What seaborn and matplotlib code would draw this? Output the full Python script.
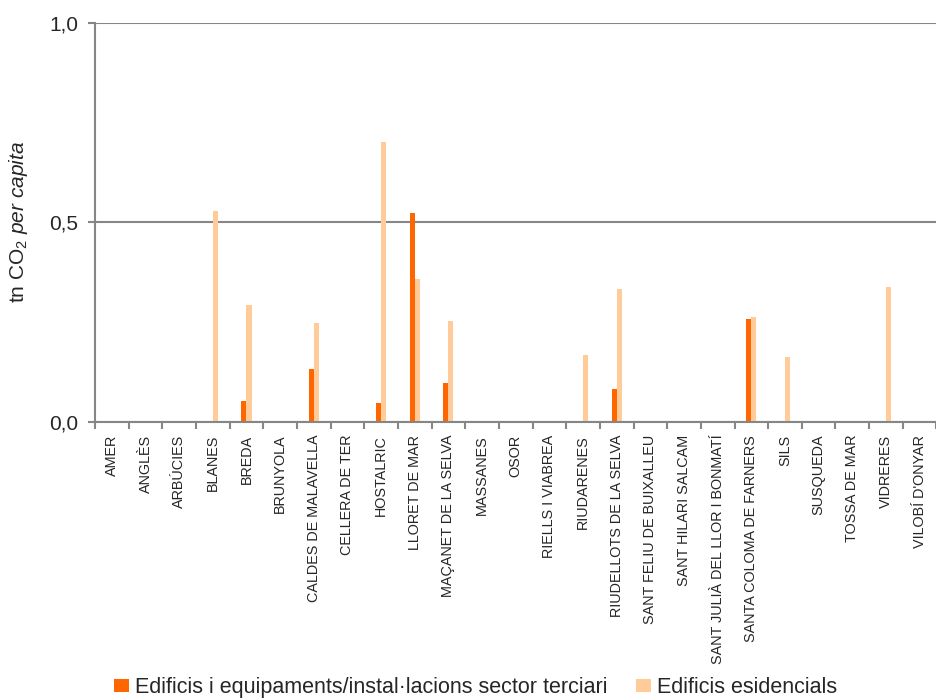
import numpy as np
import pandas as pd
import matplotlib
matplotlib.use('Agg')
import matplotlib.pyplot as plt
import seaborn as sb

municipis = ['AMER', 'ANGLÈS', 'ARBÚCIES', 'BLANES', 'BREDA', 'BRUNYOLA',
             'CALDES DE MALAVELLA', 'CELLERA DE TER', 'HOSTALRIC', 'LLORET DE MAR',
             'MAÇANET DE LA SELVA', 'MASSANES', 'OSOR', 'RIELLS I VIABREA',
             'RIUDARENES', 'RIUDELLOTS DE LA SELVA', 'SANT FELIU DE BUIXALLEU',
             'SANT HILARI SALCAM', 'SANT JULIÀ DEL LLOR I BONMATÍ',
             'SANTA COLOMA DE FARNERS', 'SILS', 'SUSQUEDA', 'TOSSA DE MAR',
             'VIDRERES', "VILOBÍ D'ONYAR"]

# tn CO2 per capita
terciari = [0, 0, 0, 0, 0.052, 0, 0.132, 0, 0.047, 0.523, 0.097, 0, 0, 0,
            0, 0.082, 0, 0, 0, 0.257, 0, 0, 0, 0, 0]
residencial = [0, 0, 0, 0.528, 0.292, 0, 0.247, 0, 0.700, 0.358, 0.252, 0, 0, 0,
               0.167, 0.333, 0, 0, 0, 0.262, 0.162, 0, 0, 0.338, 0]

series = ['Edificis i equipaments/instal·lacions sector terciari', 'Edificis esidencials']
colors = ['#FF6600', '#FFCC99']

df = pd.DataFrame({
    'Municipi': municipis * 2,
    'Valor': terciari + residencial,
    'Sector': [series[0]] * len(municipis) + [series[1]] * len(municipis),
})

sb.set_style('white')
plt.rcParams['font.family'] = ['Liberation Sans', 'DejaVu Sans']
plt.rcParams['mathtext.fontset'] = 'custom'
plt.rcParams['mathtext.rm'] = 'Liberation Sans'
plt.rcParams['mathtext.it'] = 'Liberation Sans:italic'

gris = '#868686'

fig = plt.figure(figsize=(9.36, 6.98), dpi=100)
ax = fig.add_axes([0.1015, 0.396, 0.899, 0.5715])

sb.barplot(data=df, x='Municipi', y='Valor', hue='Sector', palette=colors,
           width=0.3, saturation=1, linewidth=0, ax=ax)

ax.set_xlim(-0.5, len(municipis) - 0.5)
ax.set_ylim(0, 1.0)
ax.set_yticks([0, 0.5, 1.0])
ax.set_yticklabels(['0,0', '0,5', '1,0'], fontsize=15)
ax.yaxis.grid(True, color=gris, linewidth=1.5)
ax.set_axisbelow(True)

ax.set_xticks(range(len(municipis)))
ax.set_xticklabels(municipis, rotation=90, fontsize=10.4)
ax.tick_params(axis='x', length=0, pad=9.5)
ax.set_xticks(np.arange(-0.5, len(municipis), 1), minor=True)
ax.tick_params(axis='x', which='minor', length=5, width=1.5, color=gris, direction='out', bottom=True)
ax.tick_params(axis='y', length=5, width=1.5, color=gris, direction='out', left=True, pad=7)

for s in ['top', 'right']:
    ax.spines[s].set_visible(False)
for s in ['left', 'bottom']:
    ax.spines[s].set_color(gris)
    ax.spines[s].set_linewidth(1.5)

ax.set_xlabel('')
ax.set_ylabel(r'tn CO$_2$ $\mathit{per\ capita}$', fontsize=15, labelpad=14)

handles, labels = ax.get_legend_handles_labels()
ax.get_legend().remove()
fig.legend(handles, labels, loc='lower center', bbox_to_anchor=(0.508, -0.028), ncol=2,
           frameon=False, fontsize=15.5, handlelength=0.7, handleheight=0.6,
           handletextpad=0.3, columnspacing=1.3)

fig.savefig('out.png', dpi=100)
